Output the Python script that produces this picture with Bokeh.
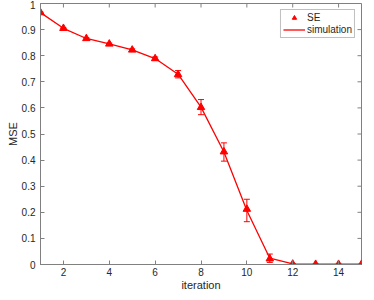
import math
from bokeh.plotting import figure
from bokeh.models import (ColumnDataSource, Whisker, TeeHead, Legend,
                          LegendItem, FixedTicker)
from bokeh.embed import file_html
from bokeh.resources import INLINE

iterations = [1, 2, 3, 4, 5, 6, 7, 8, 9, 10, 11, 12, 13, 14, 15]
se_values = [0.965, 0.905, 0.866, 0.845, 0.822, 0.789, 0.728, 0.602, 0.432, 0.212, 0.022, 0.002, 0.001, 0.001, 0.001]
sim_values = [0.965, 0.905, 0.866, 0.845, 0.822, 0.789, 0.729, 0.603, 0.431, 0.207, 0.024, 0.002, 0.001, 0.001, 0.001]
sim_errors = [0.002, 0.002, 0.003, 0.003, 0.004, 0.006, 0.014, 0.029, 0.035, 0.043, 0.016, 0.001, 0.001, 0.001, 0.001]
x_ticks = [2, 4, 6, 8, 10, 12, 14]
y_ticks = [0, 0.1, 0.2, 0.3, 0.4, 0.5, 0.6, 0.7, 0.8, 0.9, 1]
x_lim = (1, 15)
y_lim = (0, 1)

RED = "#ff0000"
AXC = "#808080"
TXT = "#262626"
FONT = "Liberation Sans"

src = ColumnDataSource(dict(
    x=iterations, se=se_values, sim=sim_values,
    lo=[m - e for m, e in zip(sim_values, sim_errors)],
    hi=[m + e for m, e in zip(sim_values, sim_errors)],
))

p = figure(width=366, height=293, x_range=x_lim, y_range=y_lim,
           output_backend="svg", toolbar_location=None,
           min_border_left=40, min_border_right=5, min_border_top=3, min_border_bottom=28,
           x_axis_label="iteration", y_axis_label="MSE")
p.grid.visible = False
p.outline_line_color = AXC
p.background_fill_color = "white"
p.border_fill_color = "white"

for ax in (p.xaxis[0], p.yaxis[0]):
    ax.axis_line_color = AXC
    ax.major_tick_line_color = AXC
    ax.major_tick_in = 4
    ax.major_tick_out = 0
    ax.minor_tick_line_color = None
    ax.major_label_text_font = FONT
    ax.major_label_text_font_size = "10px"
    ax.major_label_text_color = TXT
    ax.axis_label_text_font = FONT
    ax.axis_label_text_font_size = "11px"
    ax.axis_label_text_font_style = "normal"
    ax.axis_label_text_color = TXT
    ax.axis_label_standoff = 0
p.xaxis[0].ticker = FixedTicker(ticks=x_ticks)
p.yaxis[0].ticker = FixedTicker(ticks=y_ticks)
p.xaxis[0].major_label_standoff = 3
p.yaxis[0].major_label_standoff = 5

# mirrored tick marks on the top and right edges (clipped to the frame)
p.scatter(x=x_ticks, y=[y_lim[1]] * len(x_ticks), marker="dash", angle=math.pi / 2,
          size=8, line_color=AXC, line_width=1)
p.scatter(x=[x_lim[1]] * len(y_ticks), y=y_ticks, marker="dash",
          size=8, line_color=AXC, line_width=1)

sim_line = p.line("x", "sim", source=src, line_color=RED, line_width=1.3)
p.add_layout(Whisker(source=src, base="x", lower="lo", upper="hi",
                     line_color=RED, line_width=1,
                     lower_head=TeeHead(size=6, line_color=RED, line_width=1),
                     upper_head=TeeHead(size=6, line_color=RED, line_width=1)))
se_pts = p.scatter("x", "se", source=src, marker="triangle", size=7.5,
                   fill_color=RED, line_color=RED)
bar_key = p.scatter(x=[], y=[], marker="cross", size=9, line_color=RED, line_width=1)

legend = Legend(items=[LegendItem(label="SE", renderers=[se_pts]),
                       LegendItem(label="simulation", renderers=[sim_line, bar_key])],
                location="top_right")
legend.label_text_font = FONT
legend.label_text_font_size = "10px"
legend.label_text_color = TXT
legend.border_line_color = AXC
legend.background_fill_color = "white"
legend.background_fill_alpha = 1
legend.glyph_width = 22
legend.glyph_height = 11
legend.label_height = 11
legend.label_standoff = 2
legend.spacing = 1
legend.padding = 2
legend.margin = 6
p.add_layout(legend, "center")

open("out.html", "w").write(file_html(p, INLINE))
